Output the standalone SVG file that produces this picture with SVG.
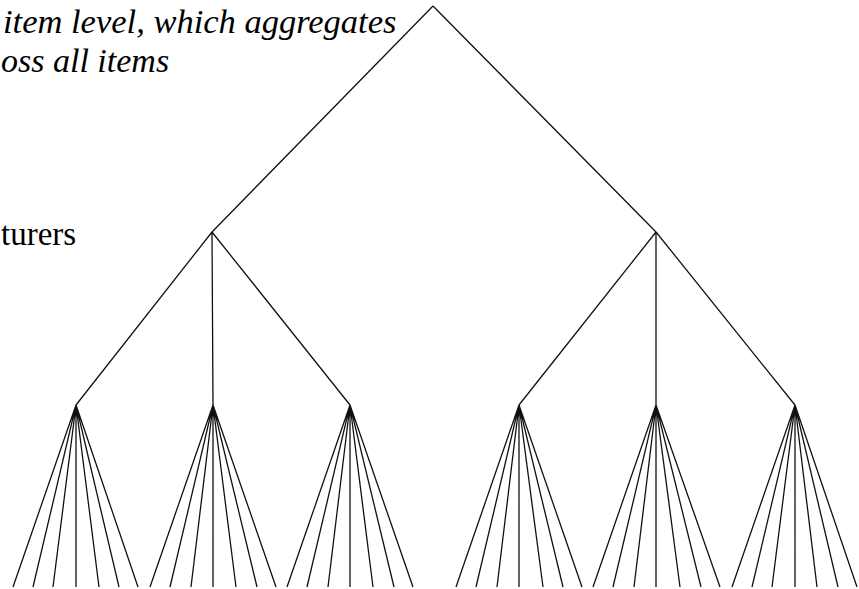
<svg xmlns="http://www.w3.org/2000/svg" width="859" height="589" viewBox="0 0 859 589">
<rect width="859" height="589" fill="#fff"/>
<g id="label-top">
<text x="3" y="33" style="font-family:'Liberation Serif',serif;font-style:italic;font-size:34.5px">item level, which aggregates</text>
<text x="1" y="72" style="font-family:'Liberation Serif',serif;font-style:italic;font-size:34px">oss all items</text>
</g>
<g id="label-mid">
<text x="1" y="245" style="font-family:'Liberation Serif',serif;font-size:33px">turers</text>
</g>
<g id="connectors" stroke="#111" stroke-width="1.3" fill="none">
<path d="M433 6L212 232M433 6L656 232"/>
<path d="M212 232L76 405M212 232L213 405M212 232L350 405"/>
<path d="M656 232L519 405M656 232L656 405M656 232L795 405"/>
<path d="M76 405L13 587M76 405L33 587M76 405L53 587M76 405L76 587M76 405L99 587M76 405L119 587M76 405L138 587"/>
<path d="M213 405L150 587M213 405L170 587M213 405L191 587M213 405L213 587M213 405L236 587M213 405L257 587M213 405L276 587"/>
<path d="M350 405L287 587M350 405L307 587M350 405L328 587M350 405L350 587M350 405L373 587M350 405L394 587M350 405L413 587"/>
<path d="M519 405L456 587M519 405L476 587M519 405L497 587M519 405L519 587M519 405L543 587M519 405L563 587M519 405L582 587"/>
<path d="M656 405L593 587M656 405L613 587M656 405L634 587M656 405L656 587M656 405L680 587M656 405L701 587M656 405L720 587"/>
<path d="M795 405L732 587M795 405L752 587M795 405L772 587M795 405L795 587M795 405L817 587M795 405L838 587M795 405L857 587"/>
</g>
</svg>
